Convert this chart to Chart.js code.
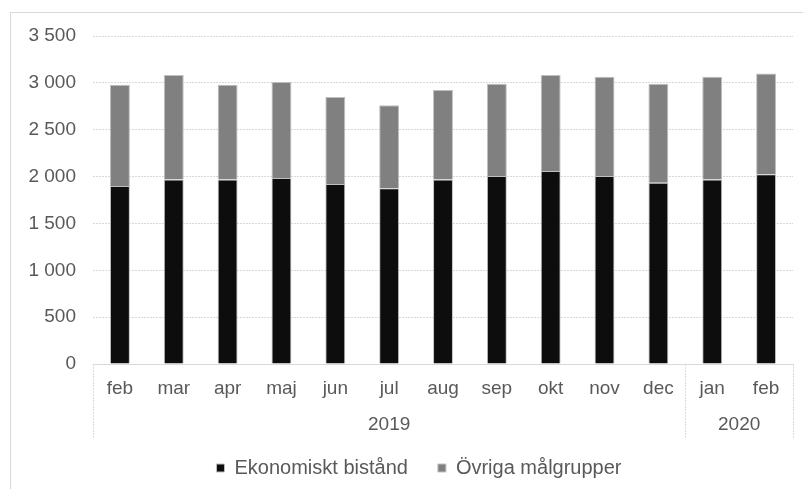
<!DOCTYPE html>
<html>
<head>
<meta charset="utf-8">
<script src="https://cdn.jsdelivr.net/npm/chart.js@4/dist/chart.umd.min.js"></script>
<style>
  html, body { margin: 0; padding: 0; background: #fff; }
  body { width: 803px; height: 489px; overflow: hidden; position: relative; }
  #wrap {
    position: absolute; left: 10px; top: 12px;
    width: 792px; height: 476px;
    border-left: 1px solid #d9d9d9; border-top: 1px solid #d9d9d9;
  }
</style>
</head>
<body>
<div id="wrap"><canvas id="chart" width="792" height="476"></canvas></div>
<script>
// months shown on the axis, grouped by year
const months = ["feb", "mar", "apr", "maj", "jun", "jul", "aug", "sep", "okt", "nov", "dec", "jan", "feb"];
const years = [
  { label: "2019", from: 0, to: 10 },
  { label: "2020", from: 11, to: 12 },
];

const ekonomisktBistand = [1900, 1970, 1970, 1985, 1920, 1875, 1970, 2005, 2060, 2005, 1935, 1970, 2025];
const ovrigaMalgrupper = [1080, 1115, 1010, 1025, 930, 885, 955, 985, 1025, 1060, 1055, 1095, 1075];

const yTicks = [0, 500, 1000, 1500, 2000, 2500, 3000, 3500];

const FONT = "'Liberation Sans', Arial, sans-serif";
const TEXT = "#595959";
const LINE = "#d9d9d9";

function fmt(v) {
  return String(v).replace(/\B(?=(\d{3})+(?!\d))/g, " ");
}

// draws the year row under the months and the group separators
const yearGroups = {
  id: "yearGroups",
  afterLayout(chart) {
    // legend sits a little right of the canvas centre in the original
    chart.legend.left += 17;
    chart.legend.right += 17;
  },
  afterDraw(chart) {
    const ctx = chart.ctx;
    const x = chart.scales.x;
    const area = chart.chartArea;
    const bottom = area.bottom + 74;
    const half = (x.getPixelForValue(1) - x.getPixelForValue(0)) / 2;

    ctx.save();
    ctx.strokeStyle = LINE;
    ctx.lineWidth = 1;
    ctx.setLineDash([2, 1]);
    const seps = [area.left];
    years.forEach((g) => seps.push(x.getPixelForValue(g.to) + half));
    seps.forEach((px) => {
      ctx.beginPath();
      ctx.moveTo(Math.round(px) + 0.5, area.bottom);
      ctx.lineTo(Math.round(px) + 0.5, bottom);
      ctx.stroke();
    });

    ctx.fillStyle = TEXT;
    ctx.font = "19px " + FONT;
    ctx.textAlign = "center";
    ctx.textBaseline = "middle";
    years.forEach((g) => {
      const l = x.getPixelForValue(g.from) - half;
      const r = x.getPixelForValue(g.to) + half;
      ctx.fillText(g.label, (l + r) / 2, area.bottom + 61);
    });
    ctx.restore();
  },
};

new Chart(document.getElementById("chart"), {
  type: "bar",
  data: {
    labels: months,
    datasets: [
      {
        label: "Ekonomiskt bistånd",
        data: ekonomisktBistand,
        backgroundColor: "#0d0d0d",
        borderColor: "#bfbfbf",
        borderWidth: 1,
      },
      {
        label: "Övriga målgrupper",
        data: ovrigaMalgrupper,
        backgroundColor: "#808080",
        borderColor: "#bfbfbf",
        borderWidth: 1,
      },
    ],
  },
  options: {
    responsive: false,
    animation: false,
    devicePixelRatio: 1,
    layout: { padding: { top: 23, right: 10, bottom: 1, left: 0 } },
    datasets: { bar: { categoryPercentage: 1, barPercentage: 0.37 } },
    plugins: {
      tooltip: { enabled: false },
      legend: {
        position: "bottom",
        labels: {
          color: TEXT,
          font: { family: FONT, size: 20 },
          boxWidth: 8,
          boxHeight: 8,
          padding: 30,
        },
      },
    },
    scales: {
      x: {
        stacked: true,
        grid: { display: false, drawTicks: false },
        border: { display: true, color: LINE },
        ticks: { color: TEXT, font: { family: FONT, size: 19 }, padding: 13, maxRotation: 0 },
        afterFit(scale) {
          scale.height = 64;
          scale.paddingLeft = 0;
          scale.paddingRight = 0;
        },
      },
      y: {
        stacked: true,
        min: 0,
        max: 3500,
        afterBuildTicks(scale) { scale.ticks = yTicks.map((v) => ({ value: v })); },
        grid: { color: LINE, drawTicks: false },
        border: { display: false, dash: [2, 1] },
        ticks: {
          color: TEXT,
          font: { family: FONT, size: 19 },
          padding: 17,
          callback: (v) => fmt(v),
        },
        afterFit(scale) {
          scale.width = 82;
          scale.paddingTop = 0;
          scale.paddingBottom = 0;
        },
      },
    },
  },
  plugins: [yearGroups],
});
</script>
</body>
</html>
